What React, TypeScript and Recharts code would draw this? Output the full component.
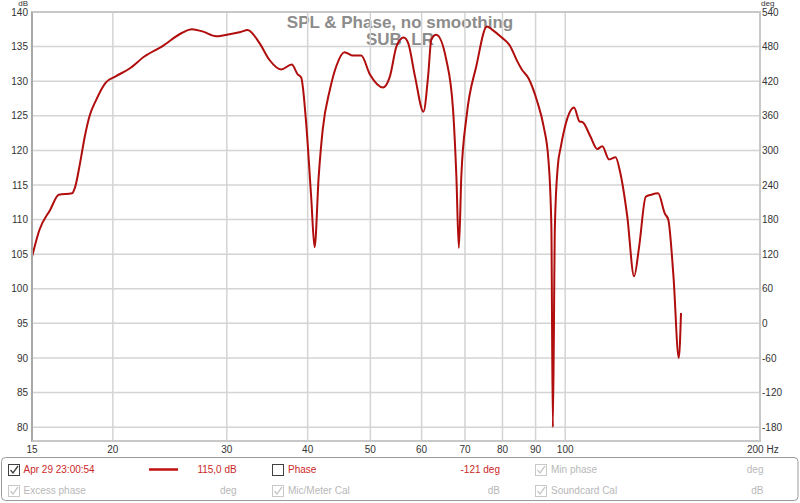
import { CartesianGrid, ComposedChart, Line, XAxis, YAxis } from "recharts";

// frequency (Hz) and SPL (dB)
const freqs = [
    15.0, 15.4, 16.0, 16.5, 17.3, 17.5, 17.8, 18.1, 18.4, 18.85,
    19.5, 20.2, 21.2, 22.4, 23.8, 25.6, 26.5, 27.5, 28.9, 30.3,
    31.5, 32.3, 33.7, 34.9, 36.4, 37.8, 38.6, 39.1, 39.75, 40.5,
    41.0, 41.6, 42.2, 43.3, 44.3, 45.6, 47.0, 48.4, 49.9, 52.3,
    53.6, 54.9, 56.3, 57.2, 58.6, 60.4, 61.4, 62.1, 63.2, 65.5,
    67.1, 67.9, 68.5, 69.1, 70.4, 72.9, 75.7, 77.0, 79.8, 82.2,
    84.3, 85.7, 87.8, 90.5, 92.6, 94.2, 95.2, 95.7, 96.4, 97.4,
    98.5, 100.3, 103.2, 105.2, 106.5, 109.4, 112.1, 114.1, 116.9, 119.6,
    121.7, 124.7, 127.8, 130.1, 133.2, 135.8, 139.2, 142.5, 144.3, 147.0,
    149.8, 151.0,
];
const spl = [
    104.6, 108.5, 111.4, 113.6, 113.8, 114.8, 118.2, 122.0, 124.9, 127.3,
    129.8, 130.7, 131.8, 133.6, 135.0, 137.0, 137.5, 137.2, 136.5, 136.8,
    137.1, 137.4, 135.5, 133.1, 131.7, 132.4, 131.0, 130.5, 124.4, 113.3,
    106.0, 116.2, 123.0, 128.8, 132.2, 134.2, 133.7, 133.7, 131.0, 129.1,
    130.7, 135.1, 136.3, 135.5, 130.7, 125.6, 130.7, 136.0, 136.7, 133.1,
    125.9, 116.2, 105.9, 116.2, 124.9, 132.2, 137.9, 137.5, 136.3, 135.1,
    132.9, 131.7, 130.4, 127.1, 123.5, 118.7, 109.0, 80.0, 109.0, 117.7,
    120.6, 124.0, 126.2, 124.2, 124.05, 122.0, 120.2, 120.6, 118.7, 119.0,
    116.7, 110.5, 101.8, 106.1, 113.3, 113.6, 113.8, 110.9, 110.0, 101.8,
    90.0, 96.5,
];

const xTicks = [15, 20, 30, 40, 50, 60, 70, 80, 90, 100, 200];
const dbTicks = [80, 85, 90, 95, 100, 105, 110, 115, 120, 125, 130, 135, 140];
const degTicks = [-180, -120, -60, 0, 60, 120, 180, 240, 300, 360, 420, 480, 540];

const data = freqs.map((f, i) => ({ f, spl: spl[i] }));

const FONT = "'Liberation Sans', Arial, sans-serif";
const RED = "#cc2828";
const GREY = "#b8b8b8";

function FreqTick(props: any) {
    const { x, y, payload } = props;
    const v = payload.value;
    if (v === 200) {
        return <text x={x - 13} y={y + 12} fontSize={10} fill="#333" fontFamily={FONT}>200 Hz</text>;
    }
    return <text x={x} y={y + 12} fontSize={10} fill="#333" textAnchor="middle" fontFamily={FONT}>{v}</text>;
}

function CheckBox({ x, y, checked, dark }: { x: number, y: number, checked: boolean, dark: boolean }) {
    const c = dark ? "#404040" : "#c8c8c8";
    return (
        <g>
            <rect x={x + 0.5} y={y + 0.5} width={11} height={11} fill="#fff" stroke={c} />
            {checked && <path d={`M${x + 2.5} ${y + 6} L${x + 5} ${y + 9} L${x + 10} ${y + 2}`} fill="none" stroke={c} strokeWidth={1.3} />}
        </g>
    );
}

export default function App() {
    return (
        <div style={{ position: "absolute", left: 0, top: 0, width: 800, height: 503, background: "#fff", fontFamily: FONT }}>
            <svg width={800} height={503} style={{ position: "absolute", left: 0, top: 0 }}>
                <text x={400} y={27.5} textAnchor="middle" fontSize={17} fontWeight="bold" fill="#8c8c8c" fontFamily={FONT}>SPL &amp; Phase, no smoothing</text>
                <text x={400} y={45} textAnchor="middle" fontSize={17} fontWeight="bold" fill="#8c8c8c" fontFamily={FONT}>SUB_LR</text>
                <text x={28} y={6} textAnchor="end" fontSize={8} fill="#333" fontFamily={FONT}>dB</text>
                <text x={761} y={6} fontSize={8} fill="#333" fontFamily={FONT}>deg</text>

                <rect x={1.5} y={457.5} width={796.5} height={43} rx={4} fill="#fff" stroke="#9a9a9a" />
                <g fontSize={10} fontFamily={FONT}>
                    <CheckBox x={8} y={464} checked dark />
                    <text x={23.5} y={473} fill={RED}>Apr 29 23:00:54</text>
                    <line x1={149} x2={178} y1={469.5} y2={469.5} stroke="#c01010" strokeWidth={2.5} />
                    <text x={236.7} y={473} fill={RED} textAnchor="end">115,0 dB</text>
                    <CheckBox x={272} y={464} checked={false} dark />
                    <text x={288} y={473} fill={RED}>Phase</text>
                    <text x={500} y={473} fill={RED} textAnchor="end">-121 deg</text>
                    <CheckBox x={535} y={464} checked dark={false} />
                    <text x={551} y={473} fill={GREY}>Min phase</text>
                    <text x={763.5} y={473} fill={GREY} textAnchor="end">deg</text>

                    <CheckBox x={8} y={485} checked dark={false} />
                    <text x={23.5} y={493.5} fill={GREY}>Excess phase</text>
                    <text x={236.7} y={493.5} fill={GREY} textAnchor="end">deg</text>
                    <CheckBox x={272} y={485} checked dark={false} />
                    <text x={288} y={493.5} fill={GREY}>Mic/Meter Cal</text>
                    <text x={500} y={493.5} fill={GREY} textAnchor="end">dB</text>
                    <CheckBox x={535} y={485} checked dark={false} />
                    <text x={551} y={493.5} fill={GREY}>Soundcard Cal</text>
                    <text x={763.5} y={493.5} fill={GREY} textAnchor="end">dB</text>
                </g>
            </svg>

            <div style={{ position: "absolute", left: 0, top: 0 }}>
                <ComposedChart width={800} height={455} data={data} margin={{ top: 12, right: 0, bottom: 0, left: 0 }}>
                    <CartesianGrid yAxisId="db" stroke="#d4d4d4" strokeWidth={1.5} verticalValues={xTicks} horizontalValues={dbTicks} />
                    <XAxis dataKey="f" type="number" scale="log" domain={[15, 200]} ticks={xTicks} allowDataOverflow
                        axisLine={false} tickLine={false} tickSize={0} tickMargin={0} height={14} tick={<FreqTick />} interval={0} />
                    <YAxis yAxisId="db" orientation="left" domain={[78, 140]} ticks={dbTicks} allowDataOverflow width={32}
                        axisLine={false} tickLine={false} tickSize={0} tickMargin={4} interval={0}
                        tick={{ fontSize: 10, fill: "#333", fontFamily: FONT }} />
                    <YAxis yAxisId="deg" orientation="right" domain={[-204, 540]} ticks={degTicks} allowDataOverflow width={40}
                        axisLine={false} tickLine={false} tickSize={0} tickMargin={2} interval={0}
                        tick={{ fontSize: 10, fill: "#333", fontFamily: FONT }} />
                    <Line yAxisId="db" dataKey="spl" type="monotone" stroke="#b00d0d" strokeWidth={2} dot={false} isAnimationActive={false} />
                </ComposedChart>
            </div>

            <div style={{ position: "absolute", left: 31, top: 11, width: 730, height: 431, boxSizing: "border-box",
                border: "2px solid #c8c8c8", borderLeftColor: "#a8a8a8", pointerEvents: "none" }} />
        </div>
    );
}
